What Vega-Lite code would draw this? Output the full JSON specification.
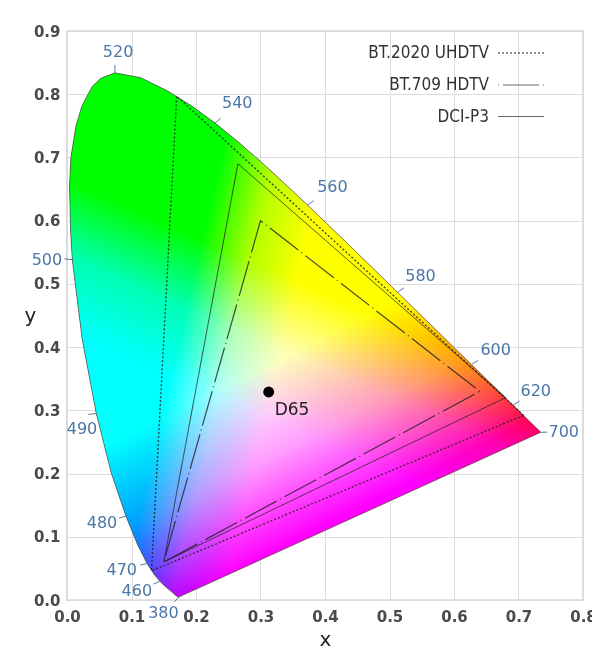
{
  "$schema": "https://vega.github.io/schema/vega-lite/v6.json",
  "width": 516,
  "height": 569,
  "autosize": {"type": "none"},
  "padding": {"left": 67, "top": 31, "right": 9, "bottom": 54},
  "background": "white",
  "config": {
    "view": {"stroke": "#8a8a8a", "strokeWidth": 1.2},
    "font": "DejaVu Sans",
    "axis": {
      "grid": true, "gridColor": "#dcdcdc", "gridWidth": 1,
      "ticks": false, "domain": false,
      "labelFont": "DejaVu Sans", "labelFontSize": 15, "labelFontWeight": "bold", "labelColor": "#4a4a4a",
      "titleFont": "DejaVu Sans", "titleFontSize": 20, "titleFontWeight": "normal", "titleColor": "#222222"
    }
  },
  "datasets": {
    "locus": [
      {"i": 0, "wl": 380, "x": 0.1741, "y": 0.0050},
      {"i": 1, "wl": 400, "x": 0.1733, "y": 0.0048},
      {"i": 2, "wl": 420, "x": 0.1714, "y": 0.0051},
      {"i": 3, "wl": 430, "x": 0.1689, "y": 0.0069},
      {"i": 4, "wl": 440, "x": 0.1644, "y": 0.0109},
      {"i": 5, "wl": 450, "x": 0.1566, "y": 0.0177},
      {"i": 6, "wl": 455, "x": 0.1510, "y": 0.0227},
      {"i": 7, "wl": 460, "x": 0.1440, "y": 0.0297},
      {"i": 8, "wl": 465, "x": 0.1355, "y": 0.0399},
      {"i": 9, "wl": 470, "x": 0.1241, "y": 0.0578},
      {"i": 10, "wl": 475, "x": 0.1096, "y": 0.0868},
      {"i": 11, "wl": 480, "x": 0.0913, "y": 0.1327},
      {"i": 12, "wl": 485, "x": 0.0687, "y": 0.2007},
      {"i": 13, "wl": 490, "x": 0.0454, "y": 0.2950},
      {"i": 14, "wl": 495, "x": 0.0235, "y": 0.4127},
      {"i": 15, "wl": 500, "x": 0.0082, "y": 0.5384},
      {"i": 16, "wl": 502, "x": 0.0055, "y": 0.5850},
      {"i": 17, "wl": 505, "x": 0.0039, "y": 0.6548},
      {"i": 18, "wl": 507, "x": 0.0060, "y": 0.7000},
      {"i": 19, "wl": 510, "x": 0.0139, "y": 0.7502},
      {"i": 20, "wl": 512, "x": 0.0230, "y": 0.7810},
      {"i": 21, "wl": 515, "x": 0.0389, "y": 0.8120},
      {"i": 22, "wl": 517, "x": 0.0520, "y": 0.8250},
      {"i": 23, "wl": 520, "x": 0.0743, "y": 0.8338},
      {"i": 24, "wl": 525, "x": 0.1142, "y": 0.8262},
      {"i": 25, "wl": 530, "x": 0.1547, "y": 0.8059},
      {"i": 26, "wl": 535, "x": 0.1929, "y": 0.7816},
      {"i": 27, "wl": 540, "x": 0.2296, "y": 0.7543},
      {"i": 28, "wl": 545, "x": 0.2658, "y": 0.7243},
      {"i": 29, "wl": 550, "x": 0.3016, "y": 0.6923},
      {"i": 30, "wl": 555, "x": 0.3373, "y": 0.6589},
      {"i": 31, "wl": 560, "x": 0.3731, "y": 0.6245},
      {"i": 32, "wl": 565, "x": 0.4087, "y": 0.5896},
      {"i": 33, "wl": 570, "x": 0.4441, "y": 0.5547},
      {"i": 34, "wl": 575, "x": 0.4788, "y": 0.5202},
      {"i": 35, "wl": 580, "x": 0.5125, "y": 0.4866},
      {"i": 36, "wl": 585, "x": 0.5448, "y": 0.4544},
      {"i": 37, "wl": 590, "x": 0.5752, "y": 0.4242},
      {"i": 38, "wl": 595, "x": 0.6029, "y": 0.3965},
      {"i": 39, "wl": 600, "x": 0.6270, "y": 0.3725},
      {"i": 40, "wl": 605, "x": 0.6482, "y": 0.3514},
      {"i": 41, "wl": 610, "x": 0.6658, "y": 0.3340},
      {"i": 42, "wl": 620, "x": 0.6915, "y": 0.3083},
      {"i": 43, "wl": 630, "x": 0.7079, "y": 0.2920},
      {"i": 44, "wl": 640, "x": 0.7190, "y": 0.2809},
      {"i": 45, "wl": 650, "x": 0.7260, "y": 0.2740},
      {"i": 46, "wl": 660, "x": 0.7300, "y": 0.2700},
      {"i": 47, "wl": 680, "x": 0.7334, "y": 0.2666},
      {"i": 48, "wl": 700, "x": 0.7347, "y": 0.2653}
    ],
    "gamut": [
      {"gamut": "BT.2020 UHDTV", "i": 0, "x": 0.708, "y": 0.292},
      {"gamut": "BT.2020 UHDTV", "i": 1, "x": 0.170, "y": 0.797},
      {"gamut": "BT.2020 UHDTV", "i": 2, "x": 0.131, "y": 0.046},
      {"gamut": "BT.709 HDTV", "i": 0, "x": 0.640, "y": 0.330},
      {"gamut": "BT.709 HDTV", "i": 1, "x": 0.300, "y": 0.600},
      {"gamut": "BT.709 HDTV", "i": 2, "x": 0.150, "y": 0.060},
      {"gamut": "DCI-P3", "i": 0, "x": 0.680, "y": 0.320},
      {"gamut": "DCI-P3", "i": 1, "x": 0.265, "y": 0.690},
      {"gamut": "DCI-P3", "i": 2, "x": 0.150, "y": 0.060}
    ],
    "wavelabels": [
      {"wl": "380", "x": 0.1741, "y": 0.0050, "tx": 0.1663, "ty": -0.0028, "lx": 0.1495, "ly": -0.0201},
      {"wl": "460", "x": 0.1440, "y": 0.0297, "tx": 0.1340, "ty": 0.0252, "lx": 0.1082, "ly": 0.0142},
      {"wl": "470", "x": 0.1241, "y": 0.0578, "tx": 0.1134, "ty": 0.0551, "lx": 0.0849, "ly": 0.0475},
      {"wl": "480", "x": 0.0913, "y": 0.1327, "tx": 0.0808, "ty": 0.1296, "lx": 0.0543, "ly": 0.1218},
      {"wl": "490", "x": 0.0454, "y": 0.2950, "tx": 0.0330, "ty": 0.2935, "lx": 0.0233, "ly": 0.2705},
      {"wl": "500", "x": 0.0082, "y": 0.5384, "tx": -0.0040, "ty": 0.5395, "lx": -0.0311, "ly": 0.5378},
      {"wl": "520", "x": 0.0743, "y": 0.8338, "tx": 0.0743, "ty": 0.8460, "lx": 0.0792, "ly": 0.8668},
      {"wl": "540", "x": 0.2296, "y": 0.7543, "tx": 0.2383, "ty": 0.7625, "lx": 0.2640, "ly": 0.7862},
      {"wl": "560", "x": 0.3731, "y": 0.6245, "tx": 0.3826, "ty": 0.6318, "lx": 0.4115, "ly": 0.6533},
      {"wl": "580", "x": 0.5125, "y": 0.4866, "tx": 0.5222, "ty": 0.4937, "lx": 0.5481, "ly": 0.5125},
      {"wl": "600", "x": 0.6270, "y": 0.3725, "tx": 0.6372, "ty": 0.3788, "lx": 0.6646, "ly": 0.3955},
      {"wl": "620", "x": 0.6915, "y": 0.3083, "tx": 0.7017, "ty": 0.3147, "lx": 0.7267, "ly": 0.3306},
      {"wl": "700", "x": 0.7347, "y": 0.2653, "tx": 0.7447, "ty": 0.2655, "lx": 0.7702, "ly": 0.2657}
    ],
    "whitepoint": [
      {"name": "D65", "x": 0.3127, "y": 0.3290}
    ]
  },
  "layer": [
    {
      "data": {"name": "locus"},
      "mark": {
        "type": "line", "interpolate": "linear-closed", "stroke": "transparent",
        "fill": {"gradient": "linear", "x1": 0.1041, "y1": 1.0058, "x2": 0.3147, "y2": 1.0599,
          "stops": [{"offset": 0, "color": "#000000"}, {"offset": 0.5, "color": "#b30000"}, {"offset": 1, "color": "#ff0000"}]}
      },
      "encoding": {
        "x": {"field": "x", "type": "quantitative",
          "scale": {"domain": [0, 0.8], "nice": false, "zero": false},
          "axis": {"title": "x", "values": [0, 0.05, 0.1, 0.15, 0.2, 0.25, 0.3, 0.35, 0.4, 0.45, 0.5, 0.55, 0.6, 0.65, 0.7, 0.75, 0.8],
            "labelExpr": "abs(datum.value*10 - round(datum.value*10)) < 0.01 ? format(datum.value, '.1f') : ''",
            "labelPadding": 9, "titlePadding": 5, "labelFlush": false}},
        "y": {"field": "y", "type": "quantitative",
          "scale": {"domain": [0, 0.9], "nice": false, "zero": false},
          "axis": {"title": "y", "values": [0, 0.05, 0.1, 0.15, 0.2, 0.25, 0.3, 0.35, 0.4, 0.45, 0.5, 0.55, 0.6, 0.65, 0.7, 0.75, 0.8, 0.85, 0.9],
            "labelExpr": "abs(datum.value*10 - round(datum.value*10)) < 0.01 ? format(datum.value, '.1f') : ''",
            "labelPadding": 7, "titleAngle": 0, "titleX": -37, "titleY": 284, "titleAlign": "center", "titleBaseline": "middle", "labelFlush": false}},
        "order": {"field": "i", "type": "quantitative"}
      }
    },
    {
      "data": {"name": "locus"},
      "mark": {
        "type": "line", "interpolate": "linear-closed", "stroke": "transparent", "blend": "screen",
        "fill": {"gradient": "linear", "x1": 0.2273, "y1": 1.0058, "x2": 0.0914, "y2": 0.7054,
          "stops": [{"offset": 0, "color": "#000000"}, {"offset": 0.5, "color": "#009c00"}, {"offset": 1, "color": "#00ff00"}]}
      },
      "encoding": {
        "x": {"field": "x", "type": "quantitative"},
        "y": {"field": "y", "type": "quantitative"},
        "order": {"field": "i", "type": "quantitative"}
      }
    },
    {
      "data": {"name": "locus"},
      "mark": {
        "type": "line", "interpolate": "linear-closed", "stroke": "transparent", "blend": "screen",
        "fill": {"gradient": "linear", "x1": 0.00835, "y1": 0.2097, "x2": -0.0907, "y2": 0.4600,
          "stops": [{"offset": 0, "color": "#000000"}, {"offset": 0.5, "color": "#0000b3"}, {"offset": 1, "color": "#0000ff"}]}
      },
      "encoding": {
        "x": {"field": "x", "type": "quantitative"},
        "y": {"field": "y", "type": "quantitative"},
        "order": {"field": "i", "type": "quantitative"}
      }
    },
    {
      "data": {"name": "locus"},
      "mark": {"type": "line", "interpolate": "linear-closed", "stroke": "#2a3a2a", "strokeWidth": 1, "opacity": 0.55},
      "encoding": {
        "x": {"field": "x", "type": "quantitative"},
        "y": {"field": "y", "type": "quantitative"},
        "order": {"field": "i", "type": "quantitative"}
      }
    },
    {
      "data": {"name": "gamut"},
      "mark": {"type": "line", "interpolate": "linear-closed", "stroke": "#1e1e1e", "opacity": 0.8},
      "encoding": {
        "x": {"field": "x", "type": "quantitative"},
        "y": {"field": "y", "type": "quantitative"},
        "order": {"field": "i", "type": "quantitative"},
        "detail": {"field": "gamut", "type": "nominal"},
        "strokeDash": {"field": "gamut", "type": "nominal",
          "scale": {"domain": ["BT.2020 UHDTV", "BT.709 HDTV", "DCI-P3"], "range": [[2, 2], [1, 4, 36, 4], [1, 0]]},
          "legend": {"title": null, "orient": "none", "legendX": 430, "legendY": -2, "padding": 0,
            "symbolType": "stroke", "symbolSize": 2116, "symbolStrokeWidth": 1.5, "symbolStrokeColor": "#444444",
            "labelAlign": "right", "labelOffset": -56, "labelFontSize": 17, "labelFont": "DejaVu Sans Condensed",
            "labelColor": "#333333", "rowPadding": -19, "labelLimit": 300}},
        "strokeWidth": {"field": "gamut", "type": "nominal",
          "scale": {"domain": ["BT.2020 UHDTV", "BT.709 HDTV", "DCI-P3"], "range": [1.4, 1, 1.7]},
          "legend": null}
      }
    },
    {
      "data": {"name": "wavelabels"},
      "mark": {"type": "rule", "stroke": "#5a7a9a", "strokeWidth": 1},
      "encoding": {
        "x": {"field": "x", "type": "quantitative"},
        "y": {"field": "y", "type": "quantitative"},
        "x2": {"field": "tx"},
        "y2": {"field": "ty"}
      }
    },
    {
      "data": {"name": "wavelabels"},
      "mark": {"type": "text", "color": "#4a76a8", "fontSize": 16, "font": "DejaVu Sans", "align": "center", "baseline": "middle"},
      "encoding": {
        "x": {"field": "lx", "type": "quantitative"},
        "y": {"field": "ly", "type": "quantitative"},
        "text": {"field": "wl", "type": "nominal"}
      }
    },
    {
      "data": {"name": "whitepoint"},
      "mark": {"type": "point", "filled": true, "color": "#000000", "size": 120, "opacity": 1},
      "encoding": {
        "x": {"field": "x", "type": "quantitative"},
        "y": {"field": "y", "type": "quantitative"}
      }
    },
    {
      "data": {"name": "whitepoint"},
      "mark": {"type": "text", "color": "#222222", "fontSize": 17, "font": "DejaVu Sans", "align": "left", "baseline": "middle", "dx": 6, "dy": 18},
      "encoding": {
        "x": {"field": "x", "type": "quantitative"},
        "y": {"field": "y", "type": "quantitative"},
        "text": {"field": "name", "type": "nominal"}
      }
    }
  ]
}
